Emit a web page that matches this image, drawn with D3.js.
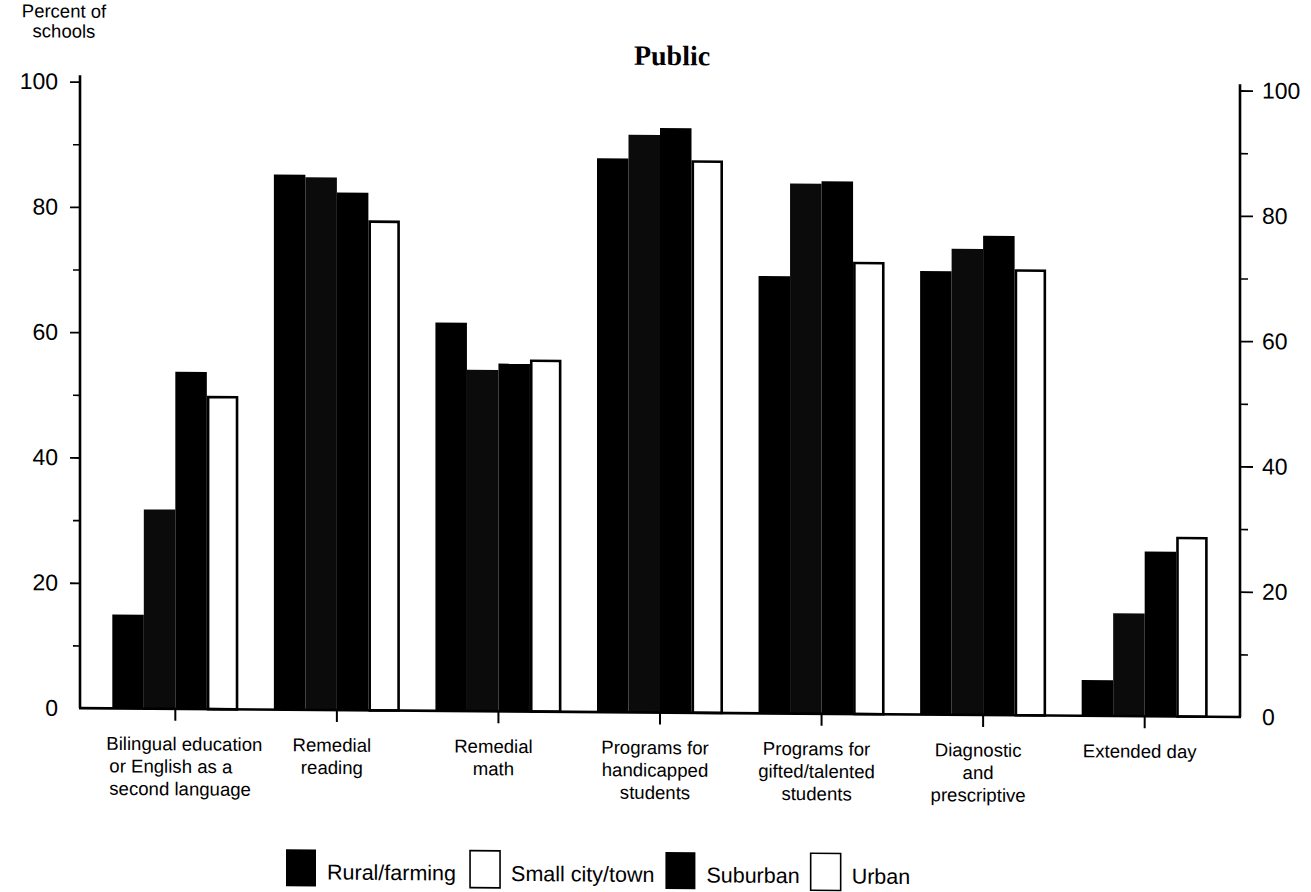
<!DOCTYPE html>
<html><head><meta charset="utf-8">
<script src="https://cdn.jsdelivr.net/npm/d3@7"></script>
<style>body{margin:0;background:#fff}svg{display:block}</style>
</head><body>
<svg id="chart" width="1311" height="892"></svg>
<script>
// ---- data ----
const categories = [
  ["Bilingual education","or English as a","second language"],
  ["Remedial","reading"],
  ["Remedial","math"],
  ["Programs for","handicapped","students"],
  ["Programs for","gifted/talented","students"],
  ["Diagnostic","and","prescriptive"],
  ["Extended day"]
];
const seriesNames = ["Rural/farming","Small city/town","Suburban","Urban"];
const rural     = [15.0, 85.4, 62.0, 88.4, 69.8, 70.8, 5.7];
const smallCity = [31.8, 85.0, 54.5, 92.2, 84.6, 74.4, 16.4];
const suburban  = [53.8, 82.6, 55.5, 93.3, 85.0, 76.5, 26.3];
const urban     = [49.8, 78.0, 56.0, 88.0, 72.0, 71.0, 28.5];
const yTicks = [0, 20, 40, 60, 80, 100];
const yMinorTicks = [10, 30, 50, 70, 90];
const titleText = "Public";
const yLabelLines = ["Percent of", "schools"];

// ---- styles ----
const seriesValues = [rural, smallCity, suburban, urban];
const fills = ["#000", "#0b0b0b", "#000", "#fff"];
const legendFills = ["#000", "#fff", "#000", "#fff"];
const sans = "'Liberation Sans', Arial, sans-serif";
const serif = "'Liberation Serif', 'Times New Roman', serif";

const svg = d3.select("#chart");
const root = svg.append("g").attr("transform", "skewY(0.44)");

const catKeys = categories.map(c => c.join(" "));
const x = d3.scaleBand().domain(catKeys).range([80, 1240]).paddingInner(0.22).paddingOuter(0.2);
const xs = d3.scaleBand().domain(seriesNames).range([0, x.bandwidth()]);
const y = d3.scaleLinear().domain([0, 100]).range([707.5, 81]);

// bars
seriesNames.forEach((s, i) => {
  root.append("g").selectAll("rect")
    .data(seriesValues[i].map((v, j) => ({cat: catKeys[j], v})))
    .join("rect")
    .attr("x", d => x(d.cat) + xs(s) + (i === 3 ? 1.3 : 0))
    .attr("y", d => y(d.v))
    .attr("width", xs.bandwidth() - (i === 3 ? 2.6 : 0))
    .attr("height", d => y(0) - y(d.v))
    .attr("fill", fills[i])
    .attr("stroke", i === 3 ? "#000" : "none")
    .attr("stroke-width", 2.6);
});

// left axis
const leftAxis = root.append("g").attr("transform", "translate(80,0)")
  .call(d3.axisLeft(y).tickValues(yTicks).tickSize(10).tickSizeOuter(0).tickPadding(12));
const leftMinor = root.append("g").attr("transform", "translate(80,0)")
  .call(d3.axisLeft(y).tickValues(yMinorTicks).tickSize(7).tickFormat(""));
leftMinor.select(".domain").remove();

// right axis
const rightAxis = root.append("g").attr("transform", "translate(1240,0)")
  .call(d3.axisRight(y).tickValues(yTicks).tickSize(13).tickSizeOuter(0).tickPadding(9));
const rightMinor = root.append("g").attr("transform", "translate(1240,0)")
  .call(d3.axisRight(y).tickValues(yMinorTicks).tickSize(8).tickFormat(""));
rightMinor.select(".domain").remove();

[leftAxis, rightAxis].forEach(a => {
  a.select(".domain").attr("stroke", "#000").attr("stroke-width", 2.6)
    .attr("d", `M0,${y(101)}V${y(0)}`);
  a.selectAll(".tick line").attr("stroke", "#000").attr("stroke-width", 1.8);
  a.selectAll(".tick text").attr("font-family", sans).attr("font-size", 23).attr("fill", "#000");
});
[leftMinor, rightMinor].forEach(a => a.selectAll(".tick line").attr("stroke", "#000").attr("stroke-width", 1.6));
leftAxis.selectAll(".tick").filter(d => d === 0).select("line").remove();
rightAxis.selectAll(".tick").filter(d => d === 0).select("line").remove();

// x axis baseline + category ticks
const xAxis = root.append("g").attr("transform", `translate(0,${y(0)})`)
  .call(d3.axisBottom(x).tickSize(12).tickFormat(""));
xAxis.select(".domain").remove();
xAxis.selectAll(".tick line").attr("stroke", "#000").attr("stroke-width", 2);
root.append("line")
  .attr("x1", 79).attr("x2", 1241).attr("y1", y(0)).attr("y2", y(0))
  .attr("stroke", "#000").attr("stroke-width", 2.6);

// category labels (first one is set flush-left under its group, the rest centred)
const catLabels = root.append("g").attr("font-family", sans).attr("font-size", 18.6).attr("fill", "#000");
categories.forEach((lines, j) => {
  const left = j === 0;
  const cx = left ? x(catKeys[j]) - 6 : x(catKeys[j]) + x.bandwidth() / 2 - 5;
  const t = catLabels.append("text")
    .attr("text-anchor", left ? "start" : "middle")
    .attr("x", cx).attr("y", 749);
  lines.forEach((ln, k) => t.append("tspan")
    .attr("x", cx + (left && k > 0 ? 3 : 0))
    .attr("dy", k === 0 ? 0 : 22.5).text(ln));
});

// title
root.append("text").attr("x", 672).attr("y", 60).attr("text-anchor", "middle")
  .attr("font-family", serif).attr("font-weight", "bold").attr("font-size", 28)
  .text(titleText);

// y label
const yl = root.append("text").attr("font-family", sans).attr("font-size", 18.5)
  .attr("text-anchor", "middle");
yLabelLines.forEach((ln, k) => yl.append("tspan").attr("x", 64).attr("y", 17 + k * 20).text(ln));

// legend
const legend = root.append("g").attr("font-family", sans).attr("font-size", 21.5);
let lx = 286;
seriesNames.forEach((s, i) => {
  legend.append("rect").attr("x", lx).attr("y", 847).attr("width", 30).attr("height", 37)
    .attr("fill", legendFills[i]).attr("stroke", "#000").attr("stroke-width", i === 0 || i === 2 ? 0 : 1.6);
  const t = legend.append("text").attr("x", lx + 41).attr("y", 877).text(s);
  lx += 41 + t.node().getComputedTextLength() + (i === 0 ? 14 : 11);
});
</script>
</body></html>
